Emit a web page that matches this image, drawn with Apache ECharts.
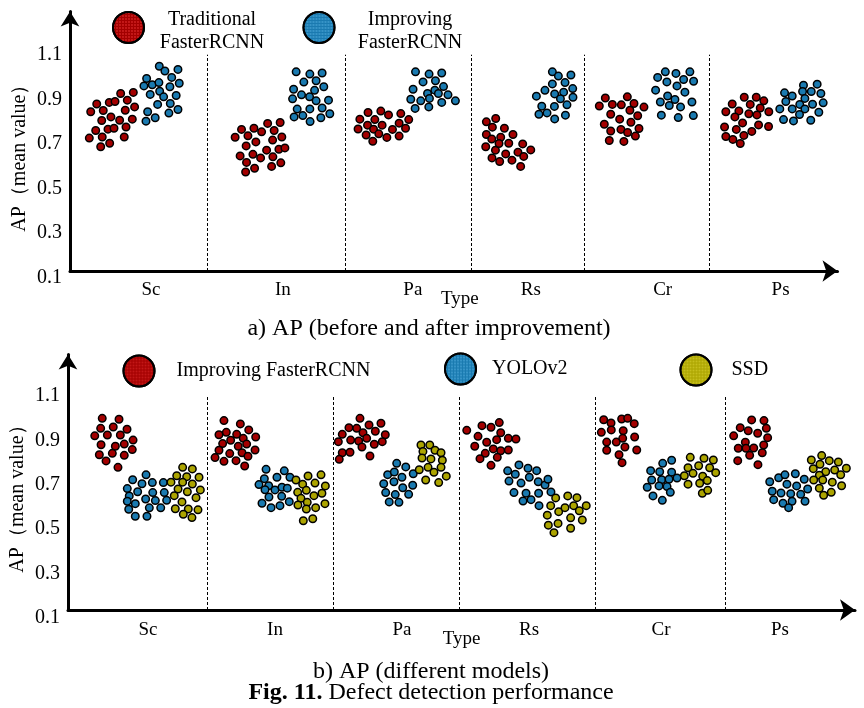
<!DOCTYPE html>
<html><head><meta charset="utf-8">
<script src="https://cdn.jsdelivr.net/npm/echarts@6/dist/echarts.min.js"></script>
<style>html,body{margin:0;padding:0;background:#fff}#c{width:864px;height:708px}</style>
</head><body><div id="c"></div>
<script>
// ---------- data ----------
const categories = ['Sc', 'In', 'Pa', 'Rs', 'Cr', 'Ps'];
const yTicks = [0.1, 0.3, 0.5, 0.7, 0.9, 1.1];
// category label positions and divider positions on the x (type) axis, panel a / panel b
const topLabelPos = [0.633, 1.664, 2.680, 3.602, 4.633, 5.555];
const topDividers = [1.070, 2.148, 3.133, 4.023, 5.000];
const bottomLabelPos = [0.610, 1.578, 2.546, 3.515, 4.521, 5.428];
const bottomDividers = [1.060, 2.020, 2.981, 4.018, 5.009];

// panel a) Traditional FasterRCNN  [position, AP]
const traditionalTop = [
 [0.396,0.926],[0.495,0.931],[0.209,0.879],[0.307,0.886],[0.352,0.890],[0.448,0.896],[0.162,0.844],[0.260,0.850],[0.432,0.851],[0.505,0.866],[0.248,0.805],[0.320,0.821],[0.388,0.806],[0.487,0.811],[0.201,0.760],[0.297,0.766],[0.344,0.770],[0.438,0.776],[0.151,0.726],[0.252,0.731],[0.424,0.731],[0.240,0.687],[0.310,0.703],
 [1.545,0.792],[1.643,0.796],[1.341,0.765],[1.438,0.770],[1.498,0.754],[1.596,0.760],[1.291,0.730],[1.391,0.736],[1.453,0.709],[1.584,0.717],[1.656,0.731],[1.377,0.691],[1.537,0.672],[1.633,0.676],[1.680,0.682],[1.330,0.646],[1.430,0.653],[1.490,0.637],[1.586,0.642],[1.380,0.617],[1.648,0.615],[1.443,0.591],[1.576,0.599],[1.373,0.574],
 [2.330,0.841],[2.430,0.847],[2.586,0.836],[2.266,0.811],[2.383,0.809],[2.490,0.830],[2.648,0.809],[2.326,0.784],[2.440,0.784],[2.573,0.793],[2.252,0.767],[2.373,0.766],[2.521,0.765],[2.623,0.770],[2.315,0.740],[2.414,0.745],[2.477,0.729],[2.573,0.735],[2.367,0.712],
 [3.255,0.799],[3.328,0.814],[3.302,0.775],[3.396,0.770],[3.255,0.742],[3.297,0.722],[3.367,0.730],[3.463,0.742],[3.250,0.687],[3.326,0.672],[3.354,0.702],[3.430,0.703],[3.539,0.700],[3.602,0.673],[3.299,0.637],[3.359,0.621],[3.406,0.655],[3.502,0.663],[3.547,0.644],[3.455,0.627],[3.523,0.599],
 [4.185,0.906],[4.357,0.911],[4.138,0.870],[4.240,0.877],[4.310,0.875],[4.409,0.881],[4.377,0.851],[4.487,0.865],[4.227,0.833],[4.438,0.826],[4.297,0.811],[4.385,0.797],[4.177,0.788],[4.227,0.758],[4.307,0.765],[4.359,0.751],[4.448,0.769],[4.420,0.735],[4.216,0.715],[4.330,0.711],
 [5.271,0.909],[5.365,0.909],[5.177,0.879],[5.318,0.877],[5.424,0.893],[5.229,0.848],[5.396,0.861],[5.127,0.844],[5.307,0.835],[5.370,0.830],[5.463,0.844],[5.198,0.821],[5.258,0.794],[5.383,0.785],[5.117,0.776],[5.209,0.765],[5.330,0.756],[5.461,0.778],[5.127,0.733],[5.182,0.720],[5.268,0.738],[5.240,0.702]
];
// panel a) Improving FasterRCNN
const improvingTop = [
 [0.698,1.048],[0.742,1.027],[0.844,1.034],[0.599,0.993],[0.795,0.998],[0.578,0.960],[0.643,0.965],[0.695,0.975],[0.781,0.956],[0.854,0.972],[0.627,0.922],[0.701,0.936],[0.732,0.911],[0.830,0.917],[0.685,0.877],[0.784,0.881],[0.607,0.844],[0.666,0.817],[0.594,0.802],[0.773,0.838],[0.844,0.854],
 [1.768,1.023],[1.875,1.013],[1.971,1.018],[1.828,0.977],[1.924,0.983],[1.748,0.945],[1.810,0.920],[1.912,0.940],[1.984,0.956],[1.740,0.902],[1.873,0.911],[1.924,0.893],[2.021,0.896],[1.776,0.856],[1.875,0.857],[1.971,0.861],[1.752,0.821],[1.820,0.827],[1.877,0.800],[1.961,0.817],[2.031,0.835],
 [2.701,1.023],[2.807,1.013],[2.906,1.018],[2.760,0.978],[2.857,0.983],[2.682,0.945],[2.795,0.926],[2.852,0.941],[2.920,0.957],[2.880,0.926],[2.955,0.920],[2.664,0.900],[2.742,0.893],[2.810,0.904],[2.906,0.886],[3.013,0.893],[2.698,0.859],[2.805,0.866],
 [3.771,1.023],[3.818,1.004],[3.916,1.009],[3.771,0.969],[3.870,0.975],[3.713,0.940],[3.789,0.924],[3.859,0.932],[3.930,0.948],[3.646,0.914],[3.834,0.902],[3.932,0.909],[3.688,0.869],[3.787,0.868],[3.885,0.875],[3.666,0.833],[3.729,0.839],[3.789,0.812],[3.873,0.829],
 [4.654,1.023],[4.737,1.016],[4.846,1.023],[4.594,0.998],[4.666,0.978],[4.797,0.989],[4.875,0.981],[4.745,0.960],[4.578,0.941],[4.807,0.932],[4.672,0.915],[4.729,0.899],[4.615,0.888],[4.685,0.872],[4.773,0.866],[4.862,0.888],[4.623,0.829],[4.755,0.818],[4.873,0.827],
 [5.734,0.963],[5.841,0.968],[5.586,0.929],[5.646,0.915],[5.727,0.935],[5.795,0.935],[5.870,0.926],[5.596,0.890],[5.745,0.904],[5.705,0.877],[5.805,0.878],[5.888,0.884],[5.549,0.857],[5.646,0.857],[5.745,0.857],[5.703,0.832],[5.854,0.842],[5.578,0.809],[5.656,0.803],[5.791,0.806]
];
// panel b) Improving FasterRCNN
const improvingBottom = [
 [0.261,0.999],[0.389,0.995],[0.249,0.954],[0.345,0.960],[0.450,0.950],[0.204,0.920],[0.300,0.924],[0.399,0.924],[0.496,0.901],[0.252,0.880],[0.361,0.873],[0.429,0.883],[0.490,0.858],[0.239,0.835],[0.338,0.841],[0.429,0.832],[0.290,0.807],[0.381,0.778],
 [1.189,0.989],[1.314,0.974],[1.207,0.936],[1.378,0.947],[1.151,0.925],[1.286,0.927],[1.240,0.900],[1.336,0.909],[1.431,0.915],[1.179,0.885],[1.298,0.873],[1.362,0.883],[1.151,0.855],[1.426,0.856],[1.233,0.840],[1.327,0.844],[1.121,0.822],[1.372,0.828],[1.189,0.805],[1.281,0.808],[1.347,0.784],
 [2.226,0.999],[2.142,0.957],[2.201,0.954],[2.295,0.969],[2.386,0.977],[2.091,0.927],[2.249,0.934],[2.343,0.941],[2.419,0.925],[2.061,0.894],[2.155,0.901],[2.216,0.897],[2.277,0.909],[2.335,0.882],[2.396,0.894],[2.241,0.870],[2.091,0.844],[2.150,0.846],[2.068,0.814],[2.302,0.829],
 [3.040,0.945],[3.156,0.966],[3.225,0.959],[3.288,0.980],[3.126,0.918],[3.268,0.903],[3.299,0.934],[3.357,0.909],[3.415,0.906],[3.101,0.873],[3.192,0.891],[3.242,0.861],[3.299,0.853],[3.357,0.856],[3.181,0.841],[3.141,0.817],[3.273,0.823],[3.225,0.787],
 [4.084,0.993],[4.140,0.978],[4.221,0.996],[4.267,0.999],[4.317,0.975],[4.066,0.936],[4.142,0.947],[4.233,0.943],[4.107,0.892],[4.180,0.892],[4.229,0.909],[4.320,0.915],[4.246,0.870],[4.107,0.855],[4.201,0.835],[4.336,0.856],[4.224,0.799],
 [5.212,0.992],[5.306,0.989],[5.125,0.957],[5.186,0.943],[5.258,0.932],[5.324,0.954],[5.075,0.920],[5.164,0.891],[5.334,0.912],[5.110,0.864],[5.169,0.864],[5.228,0.865],[5.304,0.879],[5.197,0.832],[5.293,0.844],[5.106,0.808],[5.260,0.790]
];
// panel b) YOLOv2
const yoloBottom = [
 [0.493,0.722],[0.595,0.744],[0.452,0.682],[0.564,0.704],[0.643,0.709],[0.467,0.649],[0.531,0.668],[0.646,0.664],[0.727,0.709],[0.452,0.625],[0.513,0.614],[0.592,0.635],[0.666,0.628],[0.734,0.664],[0.752,0.629],[0.463,0.589],[0.620,0.595],[0.707,0.595],[0.513,0.557],[0.602,0.557],
 [1.510,0.769],[1.497,0.727],[1.593,0.733],[1.649,0.762],[1.692,0.733],[1.456,0.700],[1.530,0.695],[1.578,0.676],[1.631,0.688],[1.672,0.684],[1.502,0.677],[1.532,0.644],[1.629,0.647],[1.479,0.616],[1.548,0.596],[1.616,0.605],[1.687,0.623],
 [2.506,0.796],[2.575,0.780],[2.437,0.745],[2.488,0.757],[2.632,0.749],[2.407,0.704],[2.485,0.713],[2.546,0.733],[2.628,0.697],[2.552,0.686],[2.422,0.664],[2.495,0.655],[2.597,0.656],[2.449,0.622],[2.523,0.620],
 [3.438,0.789],[3.507,0.774],[3.573,0.763],[3.352,0.762],[3.410,0.747],[3.517,0.733],[3.362,0.716],[3.454,0.707],[3.585,0.713],[3.637,0.698],[3.659,0.724],[3.400,0.664],[3.492,0.661],[3.588,0.661],[3.682,0.667],[3.469,0.626],[3.530,0.632],[3.591,0.605],
 [4.534,0.796],[4.602,0.810],[4.442,0.763],[4.511,0.758],[4.602,0.756],[4.450,0.721],[4.526,0.722],[4.582,0.724],[4.643,0.730],[4.416,0.688],[4.506,0.694],[4.567,0.691],[4.592,0.665],[4.460,0.649],[4.531,0.629],
 [5.418,0.731],[5.466,0.744],[5.545,0.749],[5.350,0.713],[5.481,0.702],[5.555,0.694],[5.613,0.724],[5.369,0.670],[5.436,0.662],[5.510,0.659],[5.586,0.656],[5.639,0.680],[5.380,0.632],[5.451,0.616],[5.520,0.625],[5.619,0.625],[5.494,0.596]
];
// panel b) SSD
const ssdBottom = [
 [0.874,0.778],[0.948,0.771],[0.829,0.740],[0.905,0.736],[0.999,0.733],[0.785,0.711],[0.874,0.711],[0.948,0.703],[0.839,0.680],[0.910,0.668],[1.009,0.676],[0.810,0.650],[0.976,0.641],[0.869,0.622],[0.818,0.591],[0.917,0.590],[0.991,0.586],[0.879,0.566],[0.945,0.551],
 [1.738,0.721],[1.830,0.739],[1.929,0.744],[1.789,0.702],[1.883,0.707],[1.962,0.694],[1.751,0.665],[1.817,0.674],[1.875,0.650],[1.936,0.661],[1.776,0.638],[1.824,0.620],[1.753,0.608],[1.959,0.614],[1.817,0.590],[1.888,0.596],[1.794,0.537],[1.866,0.546],
 [2.691,0.879],[2.758,0.879],[2.798,0.855],[2.844,0.844],[2.706,0.850],[2.699,0.820],[2.767,0.816],[2.854,0.810],[2.678,0.767],[2.745,0.778],[2.844,0.778],[2.790,0.756],[2.884,0.738],[2.727,0.721],[2.826,0.709],
 [3.718,0.640],[3.810,0.649],[3.880,0.641],[3.680,0.605],[3.741,0.578],[3.789,0.596],[3.855,0.605],[3.951,0.605],[3.898,0.582],[3.654,0.562],[3.832,0.550],[3.921,0.540],[3.662,0.517],[3.736,0.525],[3.705,0.483],[3.832,0.503],
 [4.744,0.823],[4.849,0.819],[4.920,0.811],[4.727,0.776],[4.808,0.785],[4.892,0.776],[4.765,0.751],[4.938,0.754],[4.699,0.740],[4.839,0.738],[4.874,0.718],[4.727,0.702],[4.816,0.706],[4.836,0.661],[4.877,0.674],
 [5.667,0.811],[5.746,0.831],[5.804,0.808],[5.873,0.802],[5.682,0.772],[5.733,0.792],[5.777,0.758],[5.845,0.766],[5.934,0.774],[5.728,0.742],[5.891,0.744],[5.685,0.721],[5.754,0.721],[5.827,0.711],[5.728,0.684],[5.819,0.665],[5.761,0.652],[5.898,0.695]
];

// ---------- styling / layout ----------
const FONT = "'Liberation Serif','Times New Roman',serif";
const RED = '#a30000', BLUE = '#1a7ab0', YEL = '#aca400';
const RED_DOT = 'rgba(255,70,70,0.5)', BLUE_DOT = 'rgba(105,195,240,0.55)', YEL_DOT = 'rgba(245,240,80,0.55)';
const TOP = {left: 70, top: 11.5, width: 767.5, hLine: 259.5, hLab: 266.2, ymax: 1.2937, yminLine: 0.130};
const BOT = {left: 68, top: 354.5, width: 787, hLine: 255.5, hLab: 263.1, ymax: 1.2873, yminLine: 0.134};
const DIVIDER_TOP = 1.1;

function dec(c) {
  return {symbol: 'circle', symbolSize: 0.9, dashArrayX: [2, 1], dashArrayY: [2, 1], color: c};
}
function scatter(name, data, color, decalColor, ai, extra) {
  return Object.assign({
    type: 'scatter', name: name, data: data, xAxisIndex: ai, yAxisIndex: ai,
    symbol: 'circle', symbolSize: 7.5, silent: true, z: 3,
    itemStyle: {color: color, borderColor: '#000', borderWidth: 1.5, opacity: 1, decal: dec(decalColor)},
    emphasis: {disabled: true}
  }, extra || {});
}
function dividerLines(divs, ymin) {
  return {
    silent: true, symbol: ['none', 'none'], label: {show: false},
    lineStyle: {color: '#000', type: [3, 2], width: 1},
    emphasis: {disabled: true},
    data: divs.map(x => [{coord: [x, ymin]}, {coord: [x, DIVIDER_TOP]}])
  };
}
function labelFmt(pos) {
  return function (v) {
    const i = pos.findIndex(p => Math.abs(p - v) < 1e-6);
    return i >= 0 ? categories[i] : '';
  };
}
function xLine(gi, pos, margin, nameGap, namePad) {
  return {
    gridIndex: gi, type: 'value', min: 0, max: 6,
    axisLine: {show: true, onZero: false, lineStyle: {color: '#000', width: 3}, symbol: ['none', 'arrow'], symbolSize: [16, 15]},
    axisTick: {show: false}, splitLine: {show: false},
    axisLabel: {customValues: pos, formatter: labelFmt(pos), fontSize: 19, color: '#000', fontFamily: FONT, margin: margin},
    name: 'Type', nameLocation: 'middle', nameGap: nameGap, nameMoveOverlap: false,
    nameTextStyle: {fontSize: 19, color: '#000', fontFamily: FONT, padding: namePad}
  };
}
function xHidden(gi) { return {gridIndex: gi, type: 'value', min: 0, max: 6, show: false}; }
function yLine(gi, P) {
  return {
    gridIndex: gi, type: 'value', min: P.yminLine, max: P.ymax,
    axisLine: {show: true, onZero: false, lineStyle: {color: '#000', width: 3}, symbol: ['none', 'arrow'], symbolSize: [14, 15]},
    axisTick: {show: false}, axisLabel: {show: false}, splitLine: {show: false}
  };
}
function yLab(gi, P, pad) {
  return {
    gridIndex: gi, type: 'value', min: 0.1, max: P.ymax,
    axisLine: {show: false}, axisTick: {show: false}, splitLine: {show: false},
    axisLabel: {customValues: yTicks, formatter: v => v.toFixed(1), fontSize: 20, color: '#000', fontFamily: FONT, margin: 8},
    name: 'AP（mean value）', nameLocation: 'middle', nameRotate: 90, nameGap: 40, nameMoveOverlap: false,
    nameTextStyle: {fontSize: 20, color: '#000', fontFamily: FONT, padding: [0, pad, 0, 0]}
  };
}
function legendTwoLine(name, left, width) {
  return {
    data: [name], left: left, top: 9.5, padding: 0, selectedMode: false,
    itemWidth: 31, itemHeight: 31, icon: 'circle',
    itemStyle: {borderWidth: 2, borderColor: '#000'},
    formatter: n => n.split('\n').map(s => '{a|' + s + '}').join('\n'),
    textStyle: {color: '#000', fontFamily: FONT, fontSize: 20, padding: [7, 0, 0, 0],
      rich: {a: {width: width, align: 'center', fontSize: 20, lineHeight: 23, fontFamily: FONT, color: '#000'}}}
  };
}
function legendOne(name, left, top, pad) {
  return {
    data: [name], left: left, top: top, padding: 0, selectedMode: false,
    itemWidth: 31, itemHeight: 31, icon: 'circle',
    itemStyle: {borderWidth: 2, borderColor: '#000'},
    textStyle: {color: '#000', fontFamily: FONT, fontSize: 20, padding: pad}
  };
}
const capStyle = {fontSize: 24, fontWeight: 'normal', color: '#000', fontFamily: FONT};

const option = {
  backgroundColor: '#fff',
  animation: false,
  title: [
    {text: 'a) AP (before and after improvement)', left: 429, top: 317, textAlign: 'center', padding: 0, textStyle: capStyle},
    {text: 'b) AP (different models)', left: 431, top: 660, textAlign: 'center', padding: 0, textStyle: capStyle},
    {text: '{b|Fig. 11.} Defect detection performance', left: 431, top: 681, textAlign: 'center', padding: 0,
      textStyle: Object.assign({}, capStyle, {rich: {b: {fontWeight: 'bold', fontSize: 24, fontFamily: FONT, color: '#000'}}})}
  ],
  legend: [
    legendTwoLine('Traditional\nFasterRCNN', 112, 126),
    legendTwoLine('Improving\nFasterRCNN', 302.5, 141),
    legendOne('Improving FasterRCNN', 122.5, 354.5, [4, 0, 0, 17]),
    legendOne('YOLOv2', 444, 352.5, [8, 0, 0, 11]),
    legendOne('SSD', 679.5, 353.5, [6, 0, 0, 15])
  ],
  grid: [
    {left: TOP.left, top: TOP.top, width: TOP.width, height: TOP.hLine, outerBoundsMode: 'none'},
    {left: TOP.left, top: TOP.top, width: TOP.width, height: TOP.hLab, outerBoundsMode: 'none'},
    {left: BOT.left, top: BOT.top, width: BOT.width, height: BOT.hLine, outerBoundsMode: 'none'},
    {left: BOT.left, top: BOT.top, width: BOT.width, height: BOT.hLab, outerBoundsMode: 'none'}
  ],
  xAxis: [
    xLine(0, topLabelPos, 10, 19, [0, 0, 0, 12]),
    xHidden(1),
    xLine(2, bottomLabelPos, 11, 20, [0, 0, 0, 0]),
    xHidden(3)
  ],
  yAxis: [
    yLine(0, TOP),
    yLab(1, TOP, 17),
    yLine(2, BOT),
    yLab(3, BOT, 16)
  ],
  series: [
    scatter('Traditional\nFasterRCNN', traditionalTop, RED, RED_DOT, 0, {markLine: dividerLines(topDividers, TOP.yminLine)}),
    scatter('Improving\nFasterRCNN', improvingTop, BLUE, BLUE_DOT, 0),
    scatter('Improving FasterRCNN', improvingBottom, RED, RED_DOT, 2, {markLine: dividerLines(bottomDividers, BOT.yminLine)}),
    scatter('YOLOv2', yoloBottom, BLUE, BLUE_DOT, 2),
    scatter('SSD', ssdBottom, YEL, YEL_DOT, 2)
  ]
};
const chart = echarts.init(document.getElementById('c'), null, {renderer: 'canvas'});
chart.setOption(option);
</script>
</body></html>
